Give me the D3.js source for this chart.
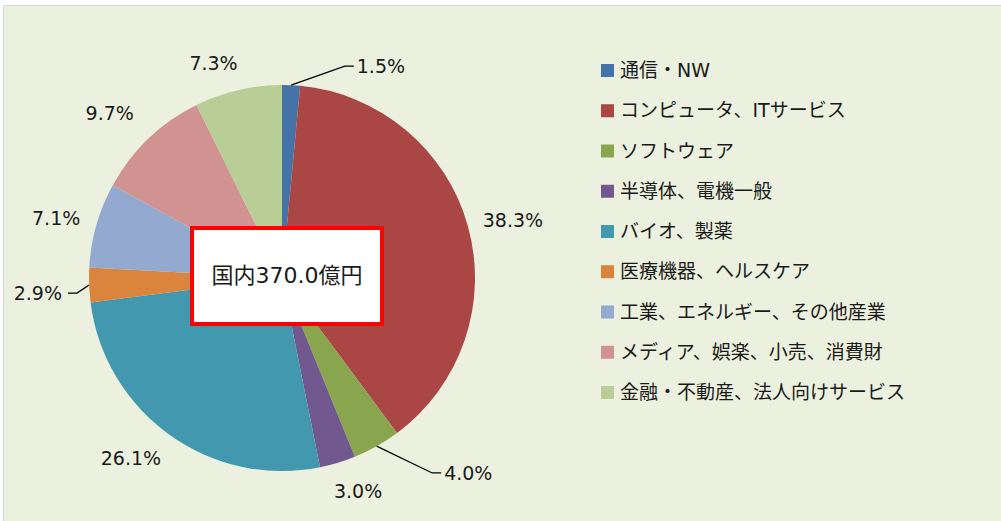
<!DOCTYPE html>
<html>
<head>
<meta charset="utf-8">
<script src="https://cdn.jsdelivr.net/npm/d3@7"></script>
<style>
  body { margin: 0; background: #fff; }
  svg text { font-family: "DejaVu Sans", "Noto Sans CJK JP", sans-serif; fill: #1a1a1a; }
</style>
</head>
<body>
<svg id="chart" width="1001" height="521"></svg>
<script>
// data
const categories = ['通信・NW', 'コンピュータ、ITサービス', 'ソフトウェア', '半導体、電機一般', 'バイオ、製薬',
  '医療機器、ヘルスケア', '工業、エネルギー、その他産業', 'メディア、娯楽、小売、消費財', '金融・不動産、法人向けサービス'];
const shares = [1.5, 38.3, 4.0, 3.0, 26.1, 2.9, 7.1, 9.7, 7.3];
const colors = ['#4572A7', '#AA4643', '#89A54E', '#71588F', '#4198AF', '#DB843D', '#93A9CF', '#D19392', '#B9CD96'];
const totalLabel = '国内370.0億円';

// label layout, polar around the pie centre (deg clockwise from top, distance as factor of radius)
// leader: label pulled out with a line, elbow at the given point
const labelLayout = [
  { angle: 16.5, k: 1.145, leader: 1 },
  { angle: 76.0, k: 1.233 },
  { angle: 142.4, k: 1.275, leader: 1 },
  { angle: 160.4, k: 1.176 },
  { angle: 220.0, k: 1.218 },
  { angle: 265.8, k: 1.065, leader: -1 },
  { angle: 284.9, k: 1.211 },
  { angle: 313.7, k: 1.235 },
  { angle: 342.3, k: 1.167 }
];

let svg = d3.select('#chart');
let width = +svg.attr('width');
let height = +svg.attr('height');

// background panel
svg.append('rect')
  .attr('x', 3.5).attr('y', 5.5)
  .attr('width', width - 3).attr('height', height - 5)
  .attr('fill', '#EBF1DE')
  .attr('stroke', '#D9D9D9');

let cx = 282, cy = 278, radius = 193;
let g = svg.append('g').attr('transform', `translate(${cx},${cy})`);

let pie = d3.pie().value(d => d).sort(null);
let arcs = pie(shares);
let arc = d3.arc().innerRadius(0).outerRadius(radius);

g.selectAll('path.slice')
  .data(arcs)
  .enter()
  .append('path')
    .attr('class', 'slice')
    .attr('d', arc)
    .attr('fill', (d, i) => colors[i]);

function polar(angleDeg, r) {
  let a = angleDeg * Math.PI / 180;
  return [Math.sin(a) * r, -Math.cos(a) * r];
}

arcs.forEach((d, i) => {
  let mid = (d.startAngle + d.endAngle) / 2 * 180 / Math.PI;
  let text = d3.format('.1f')(shares[i]) + '%';
  let lay = labelLayout[i];
  let p = polar(lay.angle, radius * lay.k);
  if (lay.leader) {
    let p0 = polar(mid, radius);
    let p2 = [p[0] + 9 * lay.leader, p[1]];
    g.append('polyline')
      .attr('points', [p0, p, p2].map(q => q.join(',')).join(' '))
      .attr('fill', 'none')
      .attr('stroke', '#000')
      .attr('stroke-width', 1.3);
    g.append('text')
      .attr('x', p2[0] + (lay.leader > 0 ? 3 : -6))
      .attr('y', p2[1])
      .attr('dy', '0.35em')
      .attr('text-anchor', lay.leader > 0 ? 'start' : 'end')
      .style('font-size', '19px')
      .text(text);
  } else {
    g.append('text')
      .attr('x', p[0])
      .attr('y', p[1])
      .attr('dy', '0.35em')
      .attr('text-anchor', 'middle')
      .style('font-size', '19px')
      .text(text);
  }
});

// total box
svg.append('rect')
  .attr('x', 192).attr('y', 228)
  .attr('width', 190).attr('height', 96)
  .attr('fill', '#fff')
  .attr('stroke', '#FF0000')
  .attr('stroke-width', 4);
svg.append('text')
  .attr('x', 287).attr('y', 283)
  .attr('text-anchor', 'middle')
  .style('font-size', '22px')
  .text(totalLabel);

// legend
let legend = svg.append('g').attr('transform', 'translate(601,64)');
let rows = legend.selectAll('g')
  .data(categories)
  .enter()
  .append('g')
  .attr('transform', (d, i) => `translate(0,${i * 40.25})`);
rows.append('rect')
  .attr('width', 13).attr('height', 13)
  .attr('fill', (d, i) => colors[i]);
rows.append('text')
  .attr('x', 19).attr('y', 13)
  .style('font-size', '19px')
  .text(d => d);
</script>
</body>
</html>
